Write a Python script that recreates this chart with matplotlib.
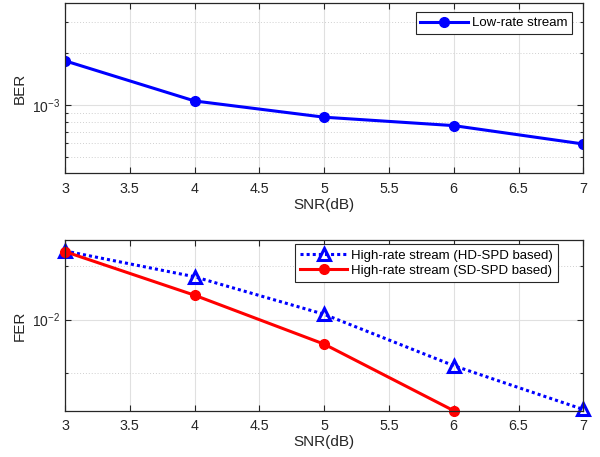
import matplotlib
matplotlib.use("Agg")
import matplotlib.pyplot as plt
from matplotlib.ticker import FixedLocator, NullFormatter, FixedFormatter

plt.rcParams['font.family'] = ['Liberation Sans', 'DejaVu Sans']
plt.rcParams['mathtext.default'] = 'regular'

snr = [3, 4, 5, 6, 7]
ber_low = [1.80e-3, 1.055e-3, 8.5e-4, 7.6e-4, 5.95e-4]

snr_hd = [3, 4, 5, 6, 7]
fer_hd = [2.43e-2, 1.74e-2, 1.07e-2, 5.5e-3, 3.12e-3]
snr_sd = [3, 4, 5, 6]
fer_sd = [2.41e-2, 1.37e-2, 7.27e-3, 3.07e-3]

xticks = [3, 3.5, 4, 4.5, 5, 5.5, 6, 6.5, 7]
xticklabels = ['3', '3.5', '4', '4.5', '5', '5.5', '6', '6.5', '7']

axcol = '#262626'
W, H = 600, 457
fig = plt.figure(figsize=(6.0, 4.57), dpi=100)
ax1 = fig.add_axes([0.1083, 0.6208, 0.8639, 0.3733])
ax2 = fig.add_axes([0.1083, 0.1013, 0.8639, 0.3729])


def style(ax, major, majlabels, minor):
    ax.set_yscale('log')
    ax.set_xlim(3, 7)
    ax.set_xticks(xticks)
    ax.set_xticklabels(xticklabels)
    ax.yaxis.set_major_locator(FixedLocator(major))
    ax.yaxis.set_major_formatter(FixedFormatter(majlabels))
    ax.yaxis.set_minor_locator(FixedLocator(minor))
    ax.yaxis.set_minor_formatter(NullFormatter())
    ax.tick_params(which='both', direction='in', top=True, right=True,
                   colors=axcol, width=0.8)
    ax.tick_params(which='major', length=4.5)
    ax.tick_params(which='minor', length=2.5)
    ax.tick_params(axis='x', which='major', pad=6, labelsize=10.3)
    ax.tick_params(axis='y', which='major', pad=3.5, labelsize=10)
    for s in ax.spines.values():
        s.set_color(axcol)
        s.set_linewidth(0.9)
    ax.grid(True, which='major', color='#e0e0e0', linewidth=0.8, linestyle='-')
    ax.grid(True, which='minor', axis='y', color='#d0d0d0', linewidth=0.7,
            linestyle=(0, (1, 2)))
    ax.set_axisbelow(True)
    ax.set_xlabel('SNR(dB)', fontsize=11, color=axcol, labelpad=1.5)


ax1.plot(snr, ber_low, color='#0000ff', linewidth=2.2, marker='o',
         markersize=7, label='Low-rate stream')
style(ax1, [1e-3], [r'$10^{-3}$'],
      [2e-3, 3e-3, 5e-4, 6e-4, 7e-4, 8e-4, 9e-4])
ax1.set_ylim(4.03e-4, 3.9e-3)
ax1.set_ylabel('BER', fontsize=11, color=axcol, labelpad=3.5)
leg1 = ax1.legend(loc='upper right', bbox_to_anchor=(572 / W, 1 - 12.3 / H),
                  bbox_transform=fig.transFigure, fontsize=9.5, fancybox=False,
                  edgecolor=axcol, framealpha=1, handlelength=3.6,
                  borderpad=0.35, handletextpad=0.3, borderaxespad=0)
leg1.get_frame().set_linewidth(0.8)

ax2.plot(snr_hd, fer_hd, color='#0000ff', linewidth=2.2,
         linestyle=(0, (1, 1)), marker='^', markersize=8.5,
         markerfacecolor='none', markeredgewidth=2.2,
         label='High-rate stream (HD-SPD based)', clip_on=False)
ax2.plot(snr_sd, fer_sd, color='#ff0000', linewidth=2.2, marker='o',
         markersize=7, label='High-rate stream (SD-SPD based)', clip_on=False)
style(ax2, [1e-2], [r'$10^{-2}$'], [2e-2, 5e-3])
ax2.set_ylim(3.07e-3, 2.79e-2)
ax2.set_ylabel('FER', fontsize=11, color=axcol, labelpad=3.5)
leg2 = ax2.legend(loc='upper right', bbox_to_anchor=(558.3 / W, 1 - 244 / H),
                  bbox_transform=fig.transFigure, fontsize=9.5, fancybox=False,
                  edgecolor=axcol, framealpha=1, handlelength=3.6,
                  borderpad=0.4, handletextpad=0.3, borderaxespad=0,
                  labelspacing=0.22)
leg2.get_frame().set_linewidth(0.8)

fig.savefig('out.png', dpi=100)
